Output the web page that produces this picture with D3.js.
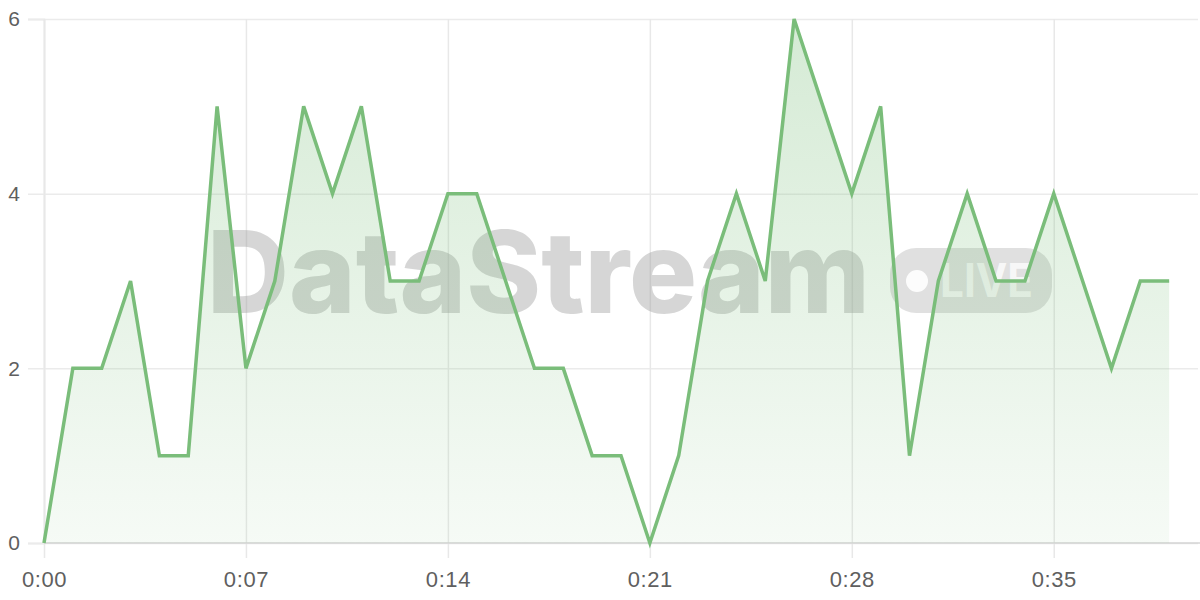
<!DOCTYPE html>
<html>
<head>
  <style>
    body { margin: 0; background: #fff; }
    svg { display: block; font-family: Inter, "Noto Sans", sans-serif; }
    .tick text { fill: #5f5f5f; }
  </style>
</head>
<body>
  <script src="https://d3js.org/d3.v7.min.js"></script>
  <script>
    // seconds elapsed and values per second
    const seconds = [0, 1, 2, 3, 4, 5, 6, 7, 8, 9, 10, 11, 12, 13, 14, 15, 16, 17, 18, 19,
                     20, 21, 22, 23, 24, 25, 26, 27, 28, 29, 30, 31, 32, 33, 34, 35, 36, 37, 38, 39];
    const values = [0, 2, 2, 3, 1, 1, 5, 2, 3, 5, 4, 5, 3, 3, 4, 4, 3, 2, 2, 1,
                    1, 0, 1, 3, 4, 3, 6, 5, 4, 5, 1, 3, 4, 3, 3, 4, 3, 2, 3, 3];
    const xTicks = [0, 7, 14, 21, 28, 35];
    const xTickLabels = ['0:00', '0:07', '0:14', '0:21', '0:28', '0:35'];
    const yTicks = [0, 2, 4, 6];
    const watermark = 'DataStream';
    const badgeLabel = 'LIVE';

    const width = 1200;
    const height = 600;
    const margin = { top: 19, right: 2, bottom: 57, left: 44 };

    const data = seconds.map((s, i) => ({ s, v: values[i] }));

    const svg = d3.select('body')
      .append('svg')
      .attr('width', width)
      .attr('height', height);

    const x = d3.scaleLinear()
      .domain([0, 40])
      .range([margin.left, width - margin.right]);

    const y = d3.scaleLinear()
      .domain([0, 6])
      .range([height - margin.bottom, margin.top]);

    // gradient for the area
    const grad = svg.append('defs')
      .append('linearGradient')
      .attr('id', 'fillGrad')
      .attr('gradientUnits', 'userSpaceOnUse')
      .attr('x1', 0).attr('x2', 0)
      .attr('y1', y(6)).attr('y2', y(0));
    grad.append('stop').attr('offset', '0%').attr('stop-color', '#7cbf7c').attr('stop-opacity', 0.32);
    grad.append('stop').attr('offset', '100%').attr('stop-color', '#7cbf7c').attr('stop-opacity', 0.07);

    // grid + axes
    const yAxis = svg.append('g')
      .attr('transform', `translate(${margin.left},0)`)
      .call(d3.axisLeft(y)
        .tickValues(yTicks)
        .tickSize(16)
        .tickPadding(8)
        .tickFormat(d3.format('d')));
    yAxis.select('.domain').attr('stroke', '#d4d4d4').attr('stroke-width', 1.5);
    yAxis.selectAll('.tick line').attr('stroke', '#ebebeb').attr('stroke-width', 1.5)
      .attr('x1', -16).attr('x2', width - margin.right - margin.left);
    yAxis.selectAll('.tick text').attr('font-size', 21);

    const xAxis = svg.append('g')
      .attr('transform', `translate(0,${height - margin.bottom})`)
      .call(d3.axisBottom(x)
        .tickValues(xTicks)
        .tickSize(15)
        .tickPadding(13)
        .tickFormat((d, i) => xTickLabels[i]));
    xAxis.select('.domain').attr('stroke', '#d4d4d4').attr('stroke-width', 1.5).attr('d', `M${x(0)},0H${width}`);
    xAxis.selectAll('.tick line').attr('stroke', '#e8e8e8').attr('stroke-width', 1.5)
      .attr('y1', 15).attr('y2', y(6) - y(0));
    xAxis.selectAll('.tick text').attr('font-size', 22).attr('letter-spacing', 0.6);

    // watermark
    const wm = svg.append('g').attr('class', 'watermark');
    wm.append('text')
      .attr('x', 207)
      .attr('y', 313)
      .attr('font-size', 114)
      .attr('font-weight', 800)
      .attr('textLength', 663)
      .attr('lengthAdjust', 'spacingAndGlyphs')
      .attr('fill', '#999')
      .attr('fill-opacity', 0.4)
      .text(watermark);
    wm.append('rect')
      .attr('x', 890).attr('y', 248)
      .attr('width', 162).attr('height', 65)
      .attr('rx', 26)
      .attr('fill', '#000')
      .attr('fill-opacity', 0.12);
    wm.append('circle')
      .attr('cx', 917).attr('cy', 281).attr('r', 11)
      .attr('fill', '#fff').attr('fill-opacity', 0.9);
    wm.append('text')
      .attr('x', 940).attr('y', 297)
      .attr('font-size', 46)
      .attr('font-weight', 700)
      .attr('textLength', 93)
      .attr('lengthAdjust', 'spacingAndGlyphs')
      .attr('fill', '#fff').attr('fill-opacity', 0.75)
      .text(badgeLabel);

    // area + line
    svg.append('path')
      .datum(data)
      .attr('fill', 'url(#fillGrad)')
      .attr('d', d3.area().x(d => x(d.s)).y0(y(0)).y1(d => y(d.v)));

    svg.append('path')
      .datum(data)
      .attr('fill', 'none')
      .attr('stroke', '#7abd7a')
      .attr('stroke-width', 3.5)
      .attr('stroke-linejoin', 'miter')
      .attr('d', d3.line().x(d => x(d.s)).y(d => y(d.v)));

    xAxis.select('.domain').raise();
  </script>
</body>
</html>
